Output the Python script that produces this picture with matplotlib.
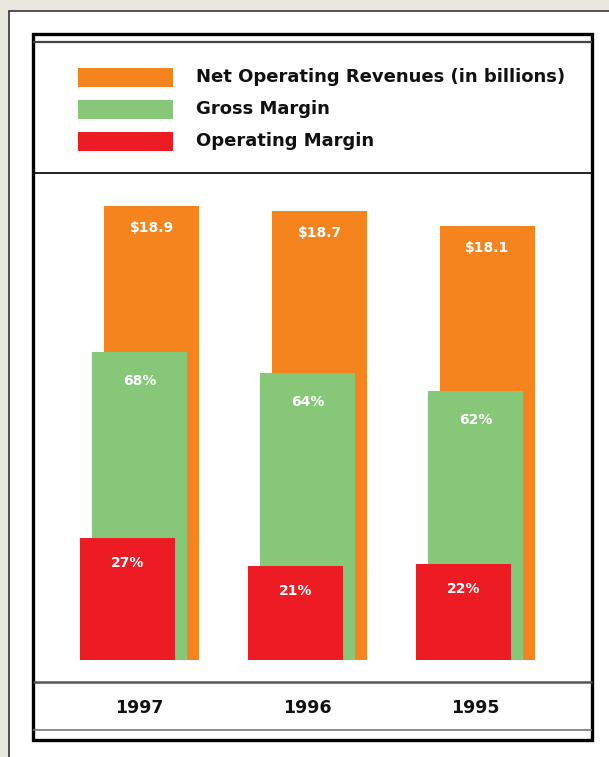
import matplotlib
matplotlib.use("Agg")
import matplotlib.pyplot as plt
from matplotlib.patches import Rectangle
from matplotlib.lines import Line2D
import numpy as np

# Data
years = ["1997", "1996", "1995"]
revenues = [18.9, 18.7, 18.1]          # net operating revenues, $ billions
gross_margin_pct = [68, 64, 62]         # % of revenues
operating_margin_pct = [27, 21, 22]     # % of revenues

series_names = ["Net Operating Revenues (in billions)", "Gross Margin", "Operating Margin"]
colors = ["#f5841f", "#86c878", "#ed1c24"]
bg_color = "#e9e8e0"

W, H = 609, 757
fig = plt.figure(figsize=(W / 100, H / 100), dpi=100, facecolor=bg_color)


def fx(x):
    return x / W


def fy(y):
    return 1 - y / H


def hline(y, x0, x1, lw, color):
    fig.add_artist(Line2D([fx(x0), fx(x1)], [fy(y), fy(y)], lw=lw, color=color,
                          transform=fig.transFigure, solid_capstyle="butt"))


# Outer white panel
fig.add_artist(Rectangle((fx(9), fy(770)), fx(620) - fx(9), fy(11) - fy(770),
                         transform=fig.transFigure, facecolor="white",
                         edgecolor="#333333", lw=1.2, zorder=0))

# Inner framed box
L, R, T, B = 33, 592, 33.5, 740
fig.add_artist(Rectangle((fx(L), fy(B)), fx(R) - fx(L), fy(T) - fy(B),
                         transform=fig.transFigure, facecolor="white",
                         edgecolor="black", lw=2.4, zorder=1))
hline(41.5, L, R, 1.6, "#444444")
hline(730, L, R, 1.2, "#777777")
hline(172.5, L, R, 1.3, "#111111")
hline(682, L, R, 1.8, "#555555")

# Legend
legend_tops = [68, 100, 132]
for name, col, top in zip(series_names, colors, legend_tops):
    fig.add_artist(Rectangle((fx(78), fy(top + 19)), fx(173) - fx(78), fy(top) - fy(top + 19),
                             transform=fig.transFigure, facecolor=col, edgecolor="none", zorder=3))
    fig.text(fx(196), fy(top + 9.5), name, fontsize=12.95, fontweight="bold",
             color="#111111", va="center", ha="left", zorder=3)

# Bars area
ax_left, ax_right, ax_top, ax_bottom = 34, 591, 173, 681
ax = fig.add_axes([fx(ax_left), fy(ax_bottom), fx(ax_right) - fx(ax_left), fy(ax_top) - fy(ax_bottom)])
ax.set_facecolor("none")
ax.set_zorder(2)

px_per_unit_x = 168.0
px_per_unit_y = 24.0
x0_px = 151.5     # centre of first revenue bar
base_px = 660.0   # zero line
ax.set_xlim((ax_left - x0_px) / px_per_unit_x, (ax_right - x0_px) / px_per_unit_x)
ax.set_ylim((base_px - ax_bottom) / px_per_unit_y, (base_px - ax_top) / px_per_unit_y)
ax.axis("off")

x = np.arange(len(years))
width = 95 / px_per_unit_x
step = 12 / px_per_unit_x

rev = np.array(revenues)
gm = rev * np.array(gross_margin_pct) / 100
om = rev * np.array(operating_margin_pct) / 100

# (positions, heights, colour, labels, label drop in px)
layers = [
    (x, rev, colors[0], [f"${v}" for v in revenues], 22),
    (x - step, gm, colors[1], [f"{v}%" for v in gross_margin_pct], 29),
    (x - 2 * step, om, colors[2], [f"{v}%" for v in operating_margin_pct], 25),
]
for xs, hs, col, labels, drop in layers:
    ax.bar(xs, hs, width=width, color=col, edgecolor="none")
    for xi, hi, lab in zip(xs, hs, labels):
        ax.text(xi, hi - drop / px_per_unit_y, lab, ha="center", va="center", color="white",
                fontsize=10, fontweight="bold")

# Year labels beneath the separator
for xi, yr in zip(x, years):
    xpix = x0_px + (xi - step) * px_per_unit_x
    fig.text(fx(xpix), fy(708), yr, ha="center", va="center", fontsize=12.5,
             fontweight="bold", color="#111111")

fig.savefig("out.png", dpi=100, facecolor=bg_color)
